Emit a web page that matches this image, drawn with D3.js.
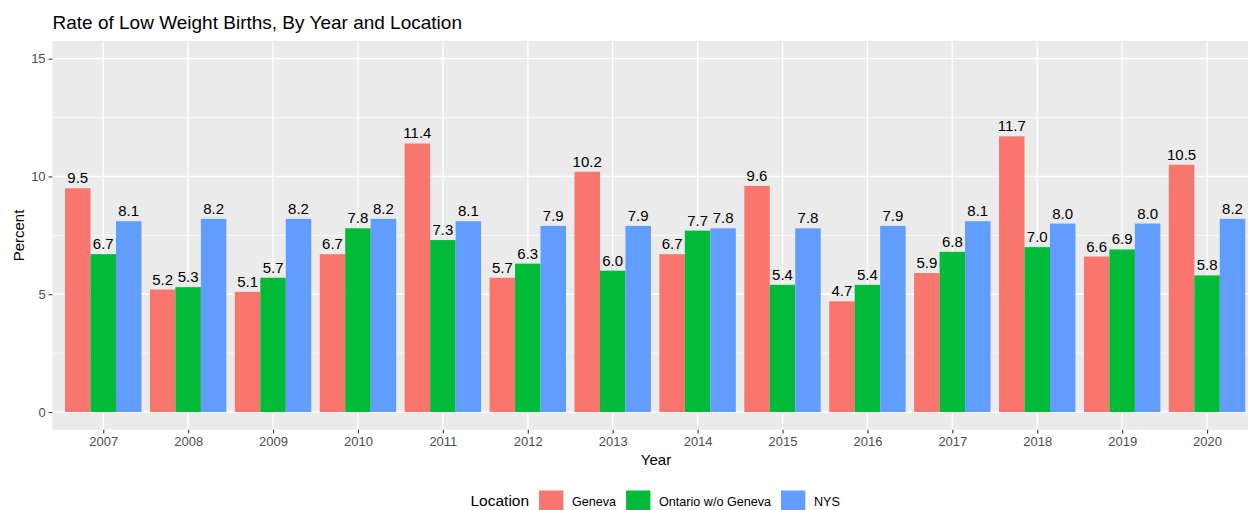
<!DOCTYPE html>
<html><head><meta charset="utf-8">
<script src="https://cdn.jsdelivr.net/npm/d3@7"></script>
<style>body{margin:0;background:#fff;} text{font-family:"Liberation Sans",Arial,sans-serif;}</style>
</head><body>
<svg id="chart" width="1248" height="510"></svg>
<script>
const years = ["2007","2008","2009","2010","2011","2012","2013","2014","2015","2016","2017","2018","2019","2020"];
const locations = ["Geneva","Ontario w/o Geneva","NYS"];
const geneva  = [9.5,5.2,5.1,6.7,11.4,5.7,10.2,6.7,9.6,4.7,5.9,11.7,6.6,10.5];
const ontario = [6.7,5.3,5.7,7.8,7.3,6.3,6.0,7.7,5.4,5.4,6.8,7.0,6.9,5.8];
const nys     = [8.1,8.2,8.2,8.2,8.1,7.9,7.9,7.8,7.8,7.9,8.1,8.0,8.0,8.2];
const yTicks  = [0,5,10,15];
const yMinor  = [2.5,7.5,12.5];
const colors  = ["#F8766D","#00BA38","#619CFF"];
const seriesValues = [geneva, ontario, nys];

const svg = d3.select("#chart");
const L = 52.3, T = 41, B = 429.7, R = 1258;

const x = d3.scaleLinear().domain([0.4, years.length + 0.6]).range([L, R]);
const y = d3.scaleLinear().domain([-0.75, 15.75]).range([B, T]);

const g = svg.append("g");
g.append("rect").attr("x",L).attr("y",T).attr("width",R-L).attr("height",B-T).attr("fill","#EBEBEB");

// minor grid
g.selectAll(".minor").data(yMinor).join("line")
  .attr("x1",L).attr("x2",R).attr("y1",d=>y(d)).attr("y2",d=>y(d))
  .attr("stroke","#fff").attr("stroke-width",0.7);
// major grid
g.selectAll(".majy").data(yTicks).join("line")
  .attr("x1",L).attr("x2",R).attr("y1",d=>y(d)).attr("y2",d=>y(d))
  .attr("stroke","#fff").attr("stroke-width",1.4);
g.selectAll(".majx").data(years).join("line")
  .attr("x1",(d,i)=>x(i+1)).attr("x2",(d,i)=>x(i+1)).attr("y1",T).attr("y2",B)
  .attr("stroke","#fff").attr("stroke-width",1.4);

// bars
const bw = 0.9/3;
const rows = [];
years.forEach((yr,i)=>{
  seriesValues.forEach((vals,s)=>{
    rows.push({i, s, v: vals[i]});
  });
});
g.selectAll(".bar").data(rows).join("rect")
  .attr("x", d => x(d.i + 1 - 0.45 + d.s*bw))
  .attr("width", d => x(d.i + 1 - 0.45 + (d.s+1)*bw) - x(d.i + 1 - 0.45 + d.s*bw))
  .attr("y", d => y(d.v))
  .attr("height", d => y(0) - y(d.v))
  .attr("fill", d => colors[d.s]);

g.selectAll(".lbl").data(rows).join("text")
  .attr("x", d => x(d.i + 1 - 0.45 + (d.s+0.5)*bw))
  .attr("y", d => y(d.v) - 5)
  .attr("text-anchor","middle")
  .attr("font-size","15px").attr("fill","#000")
  .text(d => d.v.toFixed(1));

// y axis
const yAxis = d3.axisLeft(y).tickValues(yTicks).tickSize(3.7).tickPadding(3);
const ya = svg.append("g").attr("transform",`translate(${L},0)`).call(yAxis);
ya.select(".domain").remove();
ya.selectAll("line").attr("stroke","#333333").attr("stroke-width",1.1);
ya.selectAll("text").attr("font-size","13px").attr("fill","#4D4D4D").attr("font-family","Liberation Sans, Arial, sans-serif");

// x axis
const xAxis = d3.axisBottom(x).tickValues(years.map((d,i)=>i+1)).tickFormat((d)=>years[d-1]).tickSize(3.7).tickPadding(3);
const xa = svg.append("g").attr("transform",`translate(0,${B})`).call(xAxis);
xa.select(".domain").remove();
xa.selectAll("line").attr("stroke","#333333").attr("stroke-width",1.1);
xa.selectAll("text").attr("font-size","13px").attr("fill","#4D4D4D").attr("font-family","Liberation Sans, Arial, sans-serif");

// titles
svg.append("text").attr("x",52.5).attr("y",28.5).attr("font-size","19px").attr("fill","#000")
  .text("Rate of Low Weight Births, By Year and Location");
svg.append("text").attr("x",656).attr("y",465).attr("text-anchor","middle").attr("font-size","15px").attr("fill","#000").text("Year");
svg.append("text").attr("transform","translate(23.5,235.5) rotate(-90)").attr("text-anchor","middle")
  .attr("font-size","15px").attr("fill","#000").text("Percent");

// legend
const lg = svg.append("g");
const title = lg.append("text").attr("y",506.3).attr("font-size","15.5px").attr("fill","#000").text("Location");
const tw = title.node().getComputedTextLength();
let cx = tw + 10;
locations.forEach((loc,k)=>{
  lg.append("rect").attr("x",cx).attr("y",490.5).attr("width",24.3).attr("height",24.3).attr("fill",colors[k]);
  cx += 24.3 + 8.6;
  const t = lg.append("text").attr("x",cx).attr("y",506.3).attr("font-size","12.6px").attr("fill","#000").text(loc);
  cx += t.node().getComputedTextLength();
  if (k < locations.length-1) cx += 10;
});
const startX = (L + R)/2 - cx/2;
lg.attr("transform",`translate(${startX},0)`);
</script>
</body></html>
